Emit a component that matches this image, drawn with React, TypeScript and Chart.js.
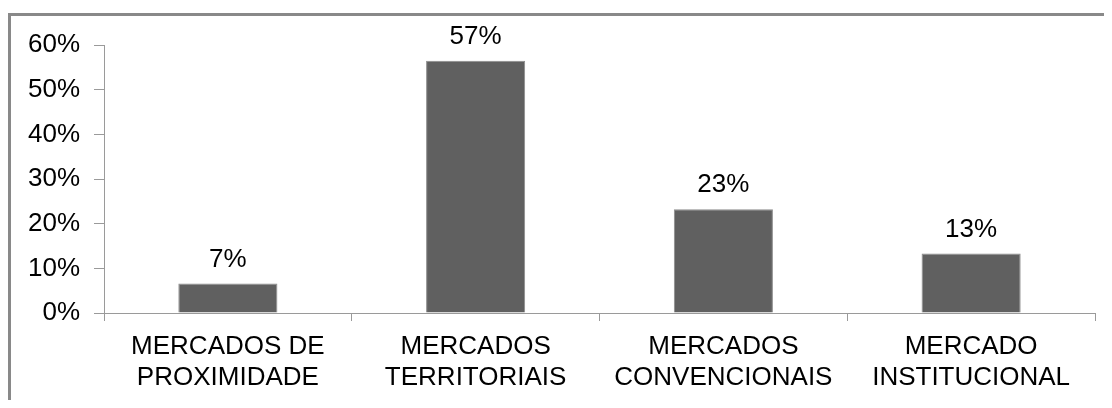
import React, { useEffect, useRef } from "react";
import { Chart, registerables } from "chart.js";

Chart.register(...registerables);

const categories: string[][] = [
  ["MERCADOS DE", "PROXIMIDADE"],
  ["MERCADOS", "TERRITORIAIS"],
  ["MERCADOS", "CONVENCIONAIS"],
  ["MERCADO", "INSTITUCIONAL"],
];
const values: number[] = [6.6, 56.5, 23.2, 13.3];
const valueLabels: string[] = ["7%", "57%", "23%", "13%"];
const yTicks: number[] = [0, 10, 20, 30, 40, 50, 60];

const FONT = "'Liberation Sans', Arial, sans-serif";

const valueLabelPlugin = {
  id: "valueLabels",
  afterDatasetsDraw(chart: any) {
    const ctx = chart.ctx;
    const meta = chart.getDatasetMeta(0);
    ctx.save();
    ctx.font = `26px ${FONT}`;
    ctx.fillStyle = "#000";
    ctx.textAlign = "center";
    ctx.textBaseline = "alphabetic";
    meta.data.forEach((el: any, i: number) => {
      ctx.fillText(valueLabels[i], el.x, el.y - 17);
    });
    ctx.restore();
  },
};

export default function App() {
  const ref = useRef<HTMLCanvasElement>(null);
  useEffect(() => {
    if (!ref.current) return;
    const chart = new Chart(ref.current, {
      type: "bar",
      data: {
        labels: categories,
        datasets: [
          {
            data: values,
            backgroundColor: "#606060",
            borderColor: "#8c8c8c",
            borderWidth: 1,
            categoryPercentage: 1,
            barPercentage: 0.4,
          },
        ],
      },
      options: {
        animation: false,
        responsive: false,
        maintainAspectRatio: false,
        layout: { padding: { top: 37, right: 17, left: 0, bottom: 0 } },
        plugins: { legend: { display: false }, tooltip: { enabled: false } },
        scales: {
          x: {
            grid: {
              display: true,
              drawOnChartArea: false,
              drawTicks: true,
              tickLength: 8,
              color: "#9a9a9a",
              offset: true,
            },
            border: { display: true, color: "#9a9a9a", width: 1 },
            ticks: {
              color: "#000",
              font: { family: FONT, size: 26, lineHeight: 1.2 },
              padding: 10,
              maxRotation: 0,
              autoSkip: false,
            },
            afterFit(scale: any) {
              scale.height = 87;
            },
          },
          y: {
            min: 0,
            max: 60,
            afterBuildTicks(scale: any) {
              scale.ticks = yTicks.map((v) => ({ value: v }));
            },
            grid: {
              display: true,
              drawOnChartArea: false,
              drawTicks: true,
              tickLength: 10,
              color: "#9a9a9a",
            },
            border: { display: true, color: "#9a9a9a", width: 1 },
            ticks: {
              color: "#000",
              font: { family: FONT, size: 26 },
              padding: 14,
              callback: (v: any) => `${v}%`,
            },
            afterFit(scale: any) {
              scale.width = 96;
            },
          },
        },
      },
      plugins: [valueLabelPlugin],
    });
    return () => chart.destroy();
  }, []);

  return (
    <div style={{ position: "relative", width: 1104, height: 392, overflow: "hidden", background: "#fff" }}>
      <div
        style={{
          position: "absolute",
          left: 0,
          top: 5,
          width: 2000,
          height: 2000,
          borderTop: "3px solid #898989",
          borderLeft: "3px solid #898989",
        }}
      />
      <canvas
        ref={ref}
        width={1104}
        height={392}
        style={{ position: "absolute", left: 0, top: 0, width: 1104, height: 392 }}
      />
    </div>
  );
}
